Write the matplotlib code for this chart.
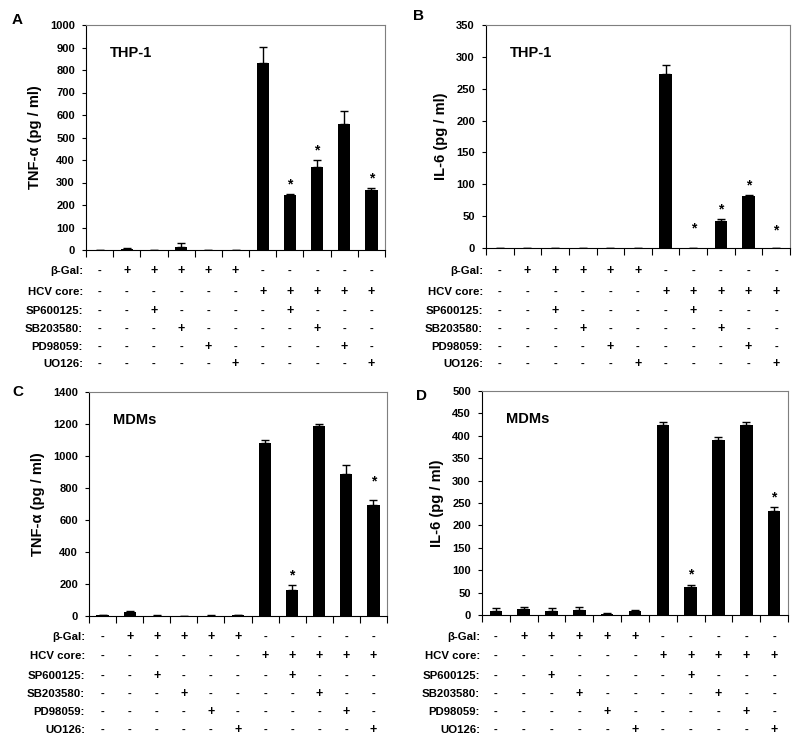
import numpy as np
import matplotlib.pyplot as plt
from matplotlib.transforms import blended_transform_factory

plt.rcParams['font.family'] = ['Liberation Sans', 'DejaVu Sans']
plt.rcParams['font.weight'] = 'bold'

# condizioni (righe della tabella sotto ogni grafico)
row_names = ['β-Gal:', 'HCV core:', 'SP600125:', 'SB203580:', 'PD98059:', 'UO126:']
beta_gal = ['-', '+', '+', '+', '+', '+', '-', '-', '-', '-', '-']
hcv_core = ['-', '-', '-', '-', '-', '-', '+', '+', '+', '+', '+']
sp600125 = ['-', '-', '+', '-', '-', '-', '-', '+', '-', '-', '-']
sb203580 = ['-', '-', '-', '+', '-', '-', '-', '-', '+', '-', '-']
pd98059 = ['-', '-', '-', '-', '+', '-', '-', '-', '-', '+', '-']
uo126 = ['-', '-', '-', '-', '-', '+', '-', '-', '-', '-', '+']
table_rows = [beta_gal, hcv_core, sp600125, sb203580, pd98059, uo126]

# dati
tnf_thp1 = [0, 5, 0, 15, 0, 0, 830, 245, 370, 558, 265]
tnf_thp1_err = [0, 2, 0, 15, 0, 0, 72, 3, 28, 60, 10]
il6_thp1 = [0, 0, 0, 0, 0, 0, 273, 0, 42, 82, 0]
il6_thp1_err = [0, 0, 0, 0, 0, 0, 15, 0, 3, 1, 0]
tnf_mdm = [5, 27, 3, 2, 3, 5, 1080, 165, 1190, 890, 695]
tnf_mdm_err = [3, 5, 1, 1, 1, 2, 18, 28, 8, 55, 30]
il6_mdm = [10, 13, 10, 12, 2, 10, 425, 62, 390, 425, 232]
il6_mdm_err = [6, 5, 5, 5, 2, 2, 6, 6, 8, 5, 8]

W, H = 800, 742
fig = plt.figure(figsize=(W / 100, H / 100), dpi=100)


def px_axes(left, top, right, bottom):
    return fig.add_axes([left / W, 1 - bottom / H, (right - left) / W, (bottom - top) / H])


def pannello(box, values, errs, stars, star_y, ymax, ystep, ylabel, cell, letter, letter_xy,
             row_y, label_x):
    ax = px_axes(*box)
    x = np.arange(len(values))
    ax.bar(x, values, width=0.45, color='black', zorder=2)
    ax.errorbar(x, values, yerr=[np.zeros(len(errs)), errs], fmt='none', ecolor='black',
                elinewidth=1, capsize=3, capthick=1, zorder=1)
    for i in stars:
        y = star_y.get(i, values[i] + errs[i]) if star_y else values[i] + errs[i]
        ax.text(i, y + ymax * 0.012, '*', ha='center', va='bottom', fontsize=10)
    ax.set_xlim(-0.5, len(values) - 0.5)
    ax.set_ylim(0, ymax)
    ax.set_yticks(np.arange(0, ymax + 1, ystep))
    ax.set_xticks(np.arange(-0.5, len(values), 1))
    ax.set_xticklabels([])
    ax.tick_params(axis='both', direction='out', length=3, width=0.8, labelsize=8, colors='black',
                   pad=5)
    ax.tick_params(axis='x', length=5)
    for lab in ax.get_yticklabels():
        lab.set_fontweight('bold')
    for s in ['top', 'right']:
        ax.spines[s].set_color('#7f7f7f')
    for s in ['left', 'bottom']:
        ax.spines[s].set_color('black')
    ax.set_ylabel(ylabel, fontsize=10.5, fontweight='bold', labelpad=6)
    ax.text(0.08, 0.858, cell, transform=ax.transAxes, fontsize=10.5, fontweight='bold')
    fig.text(letter_xy[0] / W, 1 - letter_xy[1] / H, letter, fontsize=11, fontweight='bold',
             ha='left', va='center')
    trans = blended_transform_factory(ax.transData, fig.transFigure)
    for r, (name, row) in enumerate(zip(row_names, table_rows)):
        yy = 1 - row_y[r] / H
        fig.text(label_x / W, yy, name, ha='right', va='center', fontsize=8.2, fontweight='bold')
        for i, sym in enumerate(row):
            ax.text(i, yy, sym, transform=trans, ha='center', va='center',
                    fontsize=9 if sym == '+' else 8, fontweight='bold')
    return ax


rows_top = [271, 292, 311, 329, 347, 364]
rows_bot = [637, 656, 676, 694, 712, 730]

pannello((86, 25, 385, 250), tnf_thp1, tnf_thp1_err, [7, 8, 10], None, 1000, 100,
         'TNF-α (pg / ml)', 'THP-1', 'A', (12, 20), rows_top, 83)
pannello((486, 25, 790, 248), il6_thp1, il6_thp1_err, [7, 8, 9, 10], {7: 15, 10: 13}, 350, 50,
         'IL-6 (pg / ml)', 'THP-1', 'B', (413, 16), rows_top, 483)
pannello((89, 392, 387, 616), tnf_mdm, tnf_mdm_err, [7, 10], {10: 780}, 1400, 200,
         'TNF-α (pg / ml)', 'MDMs', 'C', (12, 392), rows_bot, 85)
pannello((482, 391, 788, 615), il6_mdm, il6_mdm_err, [7, 10], None, 500, 50,
         'IL-6 (pg / ml)', 'MDMs', 'D', (416, 396), rows_bot, 480)

plt.savefig('out.png', dpi=100)
